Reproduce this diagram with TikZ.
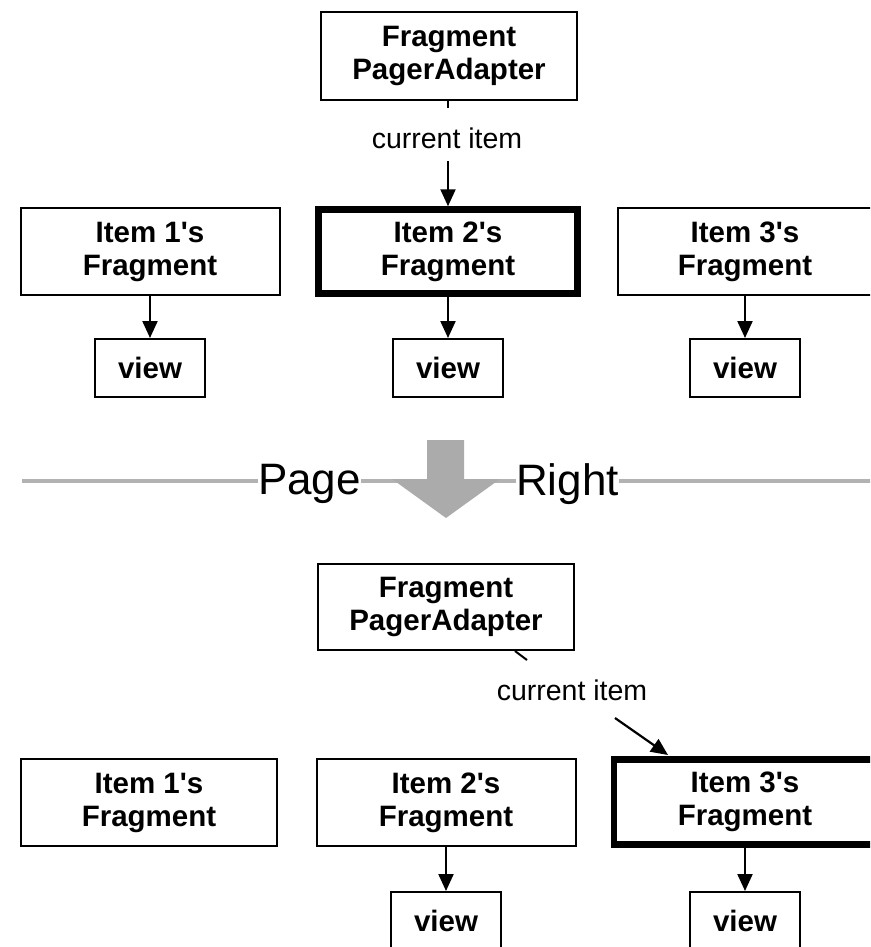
\documentclass[tikz,border=0pt]{standalone}
\usepackage{fontspec}
\setmainfont{Liberation Sans}[Ligatures=TeXOff]
\usetikzlibrary{arrows.meta}
\begin{document}
\begin{tikzpicture}[x=1pt,y=-1pt,
  box/.style={draw,line width=2pt,font=\fontsize{29.5}{33}\selectfont\bfseries,align=center,inner sep=0pt},
  hot/.style={line width=6.5pt},
  lbl/.style={font=\fontsize{28.5}{32}\selectfont,inner sep=0pt},
  big/.style={font=\fontsize{44}{50}\selectfont,inner sep=0pt},
  arr/.style={line width=2.2pt,-{Triangle[length=17pt,width=15pt]}},
  tick/.style={line width=2pt},
  divider/.style={draw=black!30,line width=3.5pt},
]
\useasboundingbox (0,0) rectangle (870,947);
\clip (0,0) rectangle (870,947);
% ---- top half ----
\node[box,minimum width=256,minimum height=88] (fpa1) at (449,56) {Fragment\\PagerAdapter};
\node[lbl] (ci1) at (447,138) {current item};
\coordinate (ci1s) at (448,161);
\node[box,minimum width=259,minimum height=87] (a1) at (150,251.5) {Item 1's\\Fragment};
\node[box,hot,minimum width=259,minimum height=84] (a2) at (448,251.5) {Item 2's\\Fragment};
\node[box,minimum width=254,minimum height=87] (a3) at (745,251.5) {Item 3's\\Fragment};
\node[box,minimum width=110,minimum height=58] (av1) at (150,368) {view};
\node[box,minimum width=110,minimum height=58] (av2) at (448,368) {view};
\node[box,minimum width=110,minimum height=58] (av3) at (745,368) {view};
\draw[tick] (fpa1.south -| ci1s) -- ++(0,7);
\draw[arr] (ci1s) -- (a2.north);
\draw[arr] (a1.south) -- (av1.north);
\draw[arr] (a2.south) -- (av2.north);
\draw[arr] (a3.south) -- (av3.north);
% ---- divider ----
\node[big] (page) at (309.5,484) {Page};
\node[big] (right) at (567.5,484) {Right};
\coordinate (dl) at (22,481);
\coordinate (dr) at (872,481);
\draw[divider] (dl) -- (dl -| page.west);
\draw[divider] (page.east |- dl) -- (right.west |- dl);
\draw[divider] (right.east |- dl) -- (dr);
\fill[black!33] (427,440) -- (464,440) -- (464,479) -- (500,479) -- (446,518) -- (392,479) -- (427,479) -- cycle;
% ---- bottom half ----
\node[box,minimum width=256,minimum height=86] (fpa2) at (446,607) {Fragment\\PagerAdapter};
\node[lbl] (ci2) at (572,690) {current item};
\coordinate (t2a) at (515,651);
\coordinate (t2b) at (527,660);
\coordinate (ci2s) at (615,718);
\coordinate (ci2e) at (668,755);
\node[box,minimum width=256,minimum height=87] (b1) at (149,802.5) {Item 1's\\Fragment};
\node[box,minimum width=259,minimum height=87] (b2) at (446,802.5) {Item 2's\\Fragment};
\node[box,hot,minimum width=262,minimum height=85] (b3) at (745,802) {Item 3's\\Fragment};
\node[box,minimum width=110,minimum height=58] (bv2) at (446,921) {view};
\node[box,minimum width=110,minimum height=58] (bv3) at (745,921) {view};
\draw[tick] (t2a) -- (t2b);
\draw[arr] (ci2s) -- (ci2e);
\draw[arr] (b2.south) -- (bv2.north);
\draw[arr] (b3.south) -- (bv3.north);
\end{tikzpicture}
\end{document}
